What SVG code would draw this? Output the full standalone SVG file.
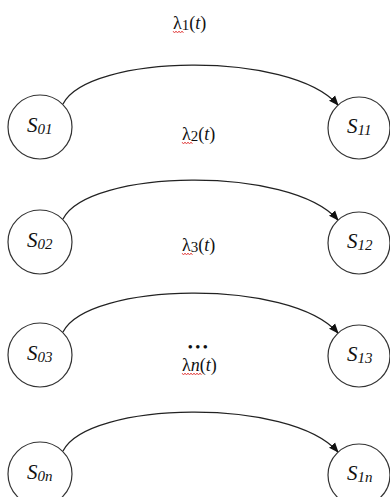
<svg xmlns="http://www.w3.org/2000/svg" width="390" height="497" viewBox="0 0 390 497">
<style>
.node{fill:#fff;stroke:#333;stroke-width:1.2}
.st{font-style:italic;font-size:21px;fill:#111}
.sub{font-size:15px}
.lb{font-size:18px;fill:#111}
.dots{font-size:13px;fill:#111;font-weight:bold;letter-spacing:3px}
.edge{fill:none;stroke:#222;stroke-width:1.3;marker-end:url(#arr)}
.sq{fill:none;stroke:#e03030;stroke-width:0.8}
</style>
<defs>
<marker id="arr" markerWidth="10" markerHeight="10" refX="9" refY="5" orient="auto" markerUnits="userSpaceOnUse">
<path d="M0,1 L10,5 L0,9 Z" fill="#111"/>
</marker>
</defs>
<rect width="390" height="497" fill="#fff"/>
<g id="connectors">
<path class="edge" d="M63,104 C88,54 290,50 338,105"/>
<path class="edge" d="M63,219 C88,169 290,165 338,220"/>
<path class="edge" d="M63,332 C88,282 290,278 338,333"/>
<path class="edge" d="M63,451 C88,401 290,397 338,452"/>
</g>
<g id="labels" font-family="Liberation Serif, Times New Roman, DejaVu Serif, serif">
<text class="lb" x="173" y="29">λ<tspan class="sub" dy="1">1</tspan><tspan dy="-1">(</tspan><tspan font-style="italic">t</tspan>)</text>
<path class="sq" d="M173,31 l1.5,2 l1.5,-2 l1.5,2 l1.5,-2 l1.5,2 l1.5,-2 l1.5,2"/>
<text class="lb" x="182" y="140">λ<tspan class="sub" dy="1">2</tspan><tspan dy="-1">(</tspan><tspan font-style="italic">t</tspan>)</text>
<path class="sq" d="M182,142 l1.5,2 l1.5,-2 l1.5,2 l1.5,-2 l1.5,2 l1.5,-2 l1.5,2"/>
<text class="lb" x="182" y="251">λ<tspan class="sub" dy="1">3</tspan><tspan dy="-1">(</tspan><tspan font-style="italic">t</tspan>)</text>
<path class="sq" d="M182,253 l1.5,2 l1.5,-2 l1.5,2 l1.5,-2 l1.5,2 l1.5,-2 l1.5,2"/>
<text class="dots" x="188" y="351">•••</text>
<text class="lb" x="182" y="371">λ<tspan font-style="italic">n</tspan>(<tspan font-style="italic">t</tspan>)</text>
<path class="sq" d="M182,373 l1.5,2 l1.5,-2 l1.5,2 l1.5,-2 l1.5,2 l1.5,-2 l1.5,2 l1.5,-2 l1.5,2 l1.5,-2 l1.5,2 l1.5,-2 l1.5,2"/>
</g>
<g font-family="Liberation Serif, Times New Roman, DejaVu Serif, serif">
<g id="S01"><circle class="node" cx="40" cy="127" r="32"/><text class="st" x="27" y="132">S<tspan class="sub" dy="2">01</tspan></text></g>
<g id="S11"><circle class="node" cx="359" cy="128" r="31"/><text class="st" x="347" y="133">S<tspan class="sub" dy="2">11</tspan></text></g>
<g id="S02"><circle class="node" cx="40" cy="242" r="32"/><text class="st" x="27" y="247">S<tspan class="sub" dy="2">02</tspan></text></g>
<g id="S12"><circle class="node" cx="359" cy="243" r="31"/><text class="st" x="347" y="248">S<tspan class="sub" dy="2">12</tspan></text></g>
<g id="S03"><circle class="node" cx="40" cy="355" r="32"/><text class="st" x="27" y="360">S<tspan class="sub" dy="2">03</tspan></text></g>
<g id="S13"><circle class="node" cx="359" cy="356" r="31"/><text class="st" x="347" y="361">S<tspan class="sub" dy="2">13</tspan></text></g>
<g id="S0n"><circle class="node" cx="40" cy="474" r="32"/><text class="st" x="27" y="479">S<tspan class="sub" dy="2">0n</tspan></text></g>
<g id="S1n"><circle class="node" cx="359" cy="475" r="31"/><text class="st" x="347" y="480">S<tspan class="sub" dy="2">1n</tspan></text></g>
</g>
</svg>
